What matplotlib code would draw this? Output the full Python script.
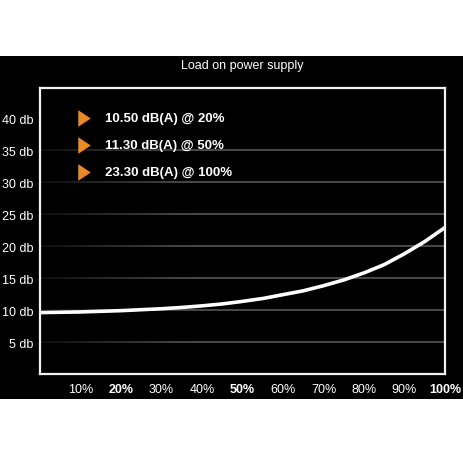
import numpy as np
import matplotlib
matplotlib.use("Agg")
import matplotlib.pyplot as plt
from matplotlib.collections import LineCollection
from matplotlib.patches import Rectangle

plt.rcParams["font.family"] = ["Liberation Sans", "DejaVu Sans"]

# data (every 5 %)
load_pct = [0, 5, 10, 15, 20, 25, 30, 35, 40, 45, 50,
            55, 60, 65, 70, 75, 80, 85, 90, 95, 100]
noise_db = [9.6, 9.65, 9.7, 9.8, 9.9, 10.05, 10.2, 10.4, 10.65, 10.95, 11.35,
            11.8, 12.4, 13.0, 13.8, 14.7, 15.8, 17.1, 18.8, 20.7, 22.9]

x_ticks = [10, 20, 30, 40, 50, 60, 70, 80, 90, 100]
x_labels = ["10%", "20%", "30%", "40%", "50%", "60%", "70%", "80%", "90%", "100%"]
x_bold = ["20%", "50%", "100%"]
y_ticks = [5, 10, 15, 20, 25, 30, 35, 40]
y_labels = ["5 db", "10 db", "15 db", "20 db", "25 db", "30 db", "35 db", "40 db"]
grid_levels = [5, 10, 15, 20, 25, 30, 35]

notes = ["10.50 dB(A) @ 20%", "11.30 dB(A) @ 50%", "23.30 dB(A) @ 100%"]

W, H = 464, 464
fig = plt.figure(figsize=(4.64, 4.64), dpi=100, facecolor="white")

# black band behind the chart
fig.patches.append(Rectangle((0, 1 - 400 / H), 1, (400 - 57) / H,
                             transform=fig.transFigure, facecolor="black",
                             edgecolor="none", zorder=-5))

ax = fig.add_axes([40 / W, 1 - 375 / H, 405 / W, 286 / H])
ax.set_facecolor("black")
ax.set_xlim(0, 100)
ax.set_ylim(0, 44.7)

# gridlines that fade in from the left
for lvl in grid_levels:
    xs = np.linspace(0, 100, 60)
    segs = [[(xs[i], lvl), (xs[i + 1], lvl)] for i in range(len(xs) - 1)]
    alphas = np.clip(0.2 + xs[:-1] / 45, 0, 1)
    cols = [(0.31, 0.31, 0.31, a) for a in alphas]
    ax.add_collection(LineCollection(segs, colors=cols, linewidths=1.3, zorder=1))

ax.plot(load_pct, noise_db, color="white", lw=2.6, solid_capstyle="butt",
        solid_joinstyle="round", zorder=3)

for s in ax.spines.values():
    s.set_color("#f2f2f2")
    s.set_linewidth(1.6)
    s.set_zorder(4)

ax.set_xticks(x_ticks)
ax.set_xticklabels(x_labels)
ax.set_yticks(y_ticks)
ax.set_yticklabels(y_labels)
ax.tick_params(length=0, colors="white", labelsize=9)
ax.tick_params(axis="x", pad=6.5)
ax.tick_params(axis="y", pad=5)
for t in ax.get_xticklabels():
    if t.get_text() in x_bold:
        t.set_fontweight("bold")

# notes with orange markers
tri = [(-0.75, -1), (0.75, 0), (-0.75, 1), (-0.75, -1)]
ys = [0.895, 0.80, 0.706]
for y, txt in zip(ys, notes):
    ax.plot([0.109], [y], marker=tri, markersize=12, color="#e8892a",
            markeredgewidth=0, transform=ax.transAxes, zorder=5)
    ax.text(0.16, y, txt, color="white", fontsize=9.5, fontweight="bold",
            va="center", ha="left", transform=ax.transAxes, zorder=5)

fig.text(242 / W, 1 - 66 / H, "Load on power supply", color="white",
         fontsize=9, ha="center", va="center")

fig.savefig("out.png", dpi=100, facecolor="white")
